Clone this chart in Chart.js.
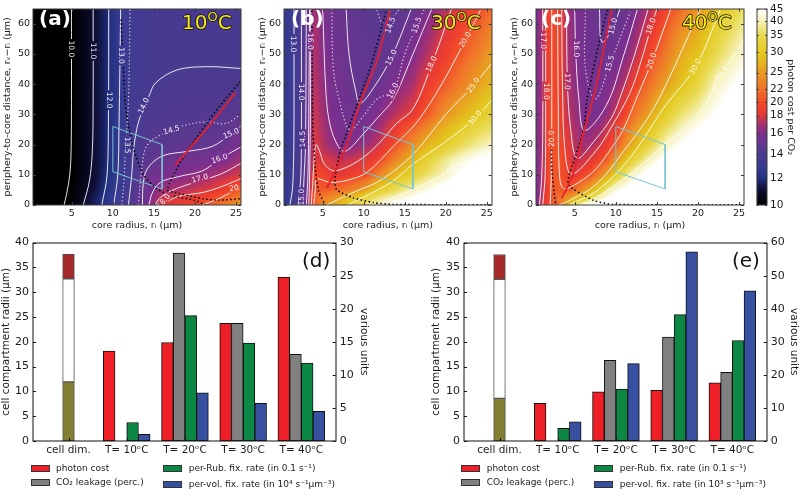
<!DOCTYPE html>
<html><head><meta charset="utf-8">
<style>html,body{margin:0;padding:0;background:#fff;width:800px;height:489px;overflow:hidden}canvas{position:absolute}</style>
<script src="https://cdn.jsdelivr.net/npm/chart.js@4"></script>
</head><body>
<canvas id="ca" width="250" height="235" style="left:0;top:0"></canvas>
<canvas id="cb" width="250" height="235" style="left:250px;top:0"></canvas>
<canvas id="cc" width="250" height="235" style="left:500px;top:0"></canvas>
<canvas id="cbar" width="55" height="235" style="left:745px;top:0"></canvas>
<canvas id="cd" width="375" height="257" style="left:0;top:232px"></canvas>
<canvas id="ce" width="370" height="257" style="left:430px;top:232px"></canvas>
<script>
// ---------- bar data ----------
const barCategories = ['cell dim.','T= 10ᵒC','T= 20ᵒC','T= 30ᵒC','T= 40ᵒC'];
const dCost = [13.6,14.9,17.8,24.8];
const dLeak = [null,28.4,17.8,13.1];
const dRub  = [2.8,18.95,14.8,11.8];
const dVol  = [1.0,7.3,5.7,4.5];
const dCell = [11.9,32.7,37.7];
const eCost = [11.4,14.9,15.3,17.6];
const eLeak = [null,24.4,31.4,20.8];
const eRub  = [3.8,15.7,38.2,30.4];
const eVol  = [5.8,23.4,57.2,45.4];
const eCell = [8.6,32.6,37.6];
const leftTicks = [0,5,10,15,20,25,30,35,40];
const dRightTicks = [0,5,10,15,20,25,30];
const eRightTicks = [0,10,20,30,40,50,60];
// ---------- colour bar ----------
const cbValues = [10,12,14,16,18,20,22,25,30,35,40,45];
const cbFractions = [0,.136,.261,.367,.456,.527,.593,.676,.782,.867,.94,1];
const gridX = [.3,1,2,3,4,5,6,7,8,9,10,11,12,14,16,18,20,22,24,25.6];
const gridY = [0,2,5,10,15,20,30,40,50,65];
const a0  = [8,8,8,8.6,9.9,10.4,10.8,11.25,11.7,12.15,12.95,13.5,14.05,15.5,18,18.6,19.6,21,23,25.5];
const a2  = [8,8,8,8.5,9.7,10.2,10.7,11.2,11.7,12.3,12.9,13.4,14,15.3,17.8,18.2,18.8,19.8,21.5,23.5];
const a5  = [8,8,8,8.5,9.6,10.1,10.5,10.9,11.4,12,12.6,13.2,13.9,15.2,16.7,17.2,17.6,18.2,19.2,20.7];
const a10 = [8,8,8,8.5,9.5,10.05,10.4,10.8,11.2,11.8,12.4,13.1,13.8,15.1,15.8,16.05,16.4,16.8,17.4,18];
const a15 = [8,8,8,8.5,9.5,10.05,10.4,10.8,11.2,11.7,12.3,13,13.6,14.55,15.1,15.4,15.5,15.7,16.1,16.8];
const a20 = [8,8,8,8.5,9.5,10.05,10.4,10.8,11.2,11.7,12.3,13,13.55,14.45,14.6,14.7,14.8,14.95,15.3,15.9];
const a30 = [8,8,8,8.5,9.5,10.05,10.4,10.8,11.2,11.7,12.3,13,13.5,14.05,14.2,14.25,14.3,14.35,14.45,14.55];
const a40 = [8,8,8,8.5,9.5,10.05,10.4,10.8,11.2,11.7,12.3,13,13.45,13.78,14,14.05,14.1,14.1,14.1,14.1];
const a50 = [8,8,8,8.5,9.5,10.05,10.4,10.8,11.2,11.7,12.3,13,13.45,13.7,13.85,13.9,13.9,13.9,13.9,13.9];
const a65 = [8,8,8,8.5,9.5,10.05,10.4,10.8,11.2,11.7,12.3,13,13.45,13.7,13.8,13.85,13.85,13.85,13.85,13.85];
const b0  = [12.7,13.1,14,15,20.5,24,25.7,27.5,30,33,36,39,41,47,50,52,54,56,58,60];
const b2  = [12.7,13,14,15.5,21,23,24.2,26,28.5,31,33,36,38.5,42,46,50,52,54,56,58];
const b5  = [12.7,13,13.9,15.2,20,20.8,21,21.7,22.5,23.7,25,28,31,35.5,40,44,48,50,52,54];
const b10 = [12.7,13,13.8,15,19.5,19.5,18.3,18.4,18.8,19.2,19.7,21,23.5,28,32.5,36.8,40.8,46,50,52];
const b15 = [12.7,13,13.8,14.9,18.2,18,17.8,17.4,17.5,17.8,18.2,18.8,19.6,23.5,27.5,33,38,42,45,47];
const b20 = [12.7,13,13.7,14.85,18.1,17.3,16.6,16.1,16,16.3,16.6,17,17.7,20.2,24,27.7,31,35,38.5,40.5];
const b30 = [12.7,13,13.7,14.8,17.7,16.9,15.9,15.6,15.45,15.4,15.45,15.7,16.3,17.4,18.4,21,24.5,27.3,30,33];
const b40 = [12.7,13,13.7,14.8,17.4,16.5,15.8,15.5,15.3,14.95,14.9,14.98,15.2,16.1,17,18.9,20.7,23,25.6,28];
const b50 = [12.7,13,13.7,14.8,17.2,16.2,15.6,15.4,15.2,15,14.85,14.75,14.7,15.2,16,17.4,19,20.8,23,25.2];
const b65 = [12.7,13,13.7,14.8,17,16,15.45,15.2,15,14.85,14.7,14.6,14.5,14.6,15.05,16,17.3,18.7,19.8,21.5];
const c0  = [15.9,17.8,20.1,21.5,25,35,42,47,50,52,54,56,58,60,60,60,60,60,60,60];
const c2  = [15.8,17.5,20,22,24.5,28,31,36,41,45,48,50,52,55,58,60,60,60,60,60];
const c5  = [15.8,17,20,21,20.3,21.5,24,27,31,38,43,46,48,52,55,58,60,60,60,60];
const c10 = [15.8,16.9,20.3,20.6,19.5,18.3,19.3,20.4,23,26,31,36,41,47,52,55,58,60,60,60];
const c15 = [15.8,16.9,20.2,20.4,19.2,17.4,17.7,18.3,19.5,21,24.5,28,32,40,46,50,54,58,60,60];
const c20 = [15.8,16.9,20.1,20.2,18.6,17.3,16.75,17,17.7,18.9,20.4,23.5,26.5,33,40.3,45,50,54,58,60];
const c30 = [15.8,16.9,20,19.8,17.6,16.8,15.95,15.75,15.9,16.6,17.6,19.2,21.5,25.5,31,36.5,40.3,45,49,52];
const c40 = [15.8,16.9,19.7,19.4,17.2,16.4,15.85,15.6,15.7,15.9,16.4,17.2,18.6,21.7,25.3,29,33.5,40,44,47];
const c50 = [15.8,16.9,19.6,19.7,17.1,16.15,15.6,15.4,15.25,15.3,15.55,16,16.8,19.2,22.3,26.5,29,34,38.8,42];
const c65 = [15.8,16.9,19.6,19.6,17,16.05,15.55,15.3,15,14.9,14.92,15.1,15.5,17.1,19.2,21.8,24.6,28.5,32.5,36];
// ---------- colour map: value, colour ----------
const cmValues = [10,10.7,11.3,12,13,14,15,16,17,18,19,20,22,25,28,30,35,40,45];
const cmColours = ['#000000','#07071c','#111340','#20307f','#383c92','#4a3a90','#65368f','#7e2f8e','#a8306e','#dc3a40','#ee3d2e','#f04d2a','#f1722a','#e99a22','#e4ba1e','#e4c920','#e9da52','#f6f2b8','#ffffff'];
// ---------- contours, red optimum lines, black dotted boundaries ----------
const la10=[[4.07,0],[4.6,6.9],[4.88,14.5],[4.96,34],[4.96,65]];
const la11=[[6.4,0],[7.15,8],[7.5,17.7],[7.6,34],[7.6,65]];
const la12=[[8.66,0],[9.3,10],[9.47,32],[9.5,65]];
const la13=[[10.1,0],[10.6,10],[10.75,26],[10.95,65]];
const la135=[[11.1,0],[11.4,10],[11.5,17],[11.9,35],[12.1,65]];
const la14=[[11.9,0],[12.3,10],[12.5,18],[12.9,25],[13.3,29],[14.4,36],[15.2,40.4],[17.8,44.7],[21.5,45.8],[25.6,45.2]];
const la145=[[13.1,0],[13.5,11.3],[14.1,19.4],[15.8,23.2],[18.8,26.4],[21.3,27.5],[23.7,27],[25.7,30.2]];
const la15=[[13.6,0],[13.7,7],[14.2,12],[16,16.2],[19.2,17.8],[22.1,19.4],[24.4,23.6],[25.7,26.4]];
const la16=[[14.4,0],[14.8,4],[15.8,7.5],[18,9.4],[20.9,11.3],[23,15.2],[25.7,19.4]];
const la17=[[15.1,0],[15.8,2.5],[17.2,4.8],[19.4,7],[23.1,10.2],[25.7,14]];
const la18=[[16,0],[17.8,2.7],[21.2,4.3],[24.1,7],[25.7,8.9]];
const la20=[[20.9,0],[22.9,2.1],[24.6,4.5],[25.7,5.9]];
const aRed=[[17.6,13.3],[19.2,18.3],[22.1,27.5],[24.9,37.2]];
const aDot1=[[11,61.4],[11.5,34],[11.9,26.4],[12.5,18.8],[13.7,10.1],[15.4,5.3],[17,3.2],[20,1.5],[21.3,0]];
const aDot2=[[25.5,40.9],[22.7,31.7],[19,17.7],[17,8],[16.6,4.7]];
const aDot3=[[16.6,4.7],[20.9,2.1],[22.9,1.6],[25.6,2.1]];
const lb13=[[1,0],[1.3,5],[1.45,15],[1.5,30],[1.5,65]];
const lb14=[[2,0],[2.3,8],[2.4,20],[2.4,65]];
const lb145=[[2.6,0],[2.7,8],[2.9,20],[3,65]];
const lb15=[[3,0],[3.2,10],[3.3,30],[3.4,65]];
const lb16L=[[3.3,0],[3.4,10],[3.5,30],[3.55,65]];
const lb145V=[[11.6,64.5],[12.3,60],[13,60.5],[14.4,65]];
const lb15U=[[7.85,65],[8.2,50],[9,38],[9.55,33.7],[11,38],[13.4,49],[15.8,65]];
const lb155=[[6.1,65],[6.3,45],[7,35],[8.3,24.8],[10,29.6],[11.6,35],[13.6,38],[15,50],[16.5,59.6],[17.4,65]];
const lb16=[[5,65],[5.4,37],[5.9,26.4],[6.9,19.4],[7.8,17.8],[10,23.7],[11.6,28.6],[13.6,35],[16,50],[18.3,65]];
const lb18=[[3.6,0],[3.8,8],[4,17],[4.2,20],[4.6,18],[5.1,14],[5.8,12],[6.5,11.3],[8.3,13],[10.4,16.7],[12.4,22],[14,27],[16,31.8],[18.3,46.6],[20.7,65]];
const lb20=[[3.9,0],[4.1,5],[4.25,8.6],[5.9,7.5],[8,8.2],[10.4,10.8],[13.6,19.4],[16.5,27.5],[19.5,40],[22.4,54.7],[24.2,64.4]];
const lb25=[[5.5,0],[7,2],[9,4.5],[12,8.1],[16,16.7],[20,30],[23.4,39.6],[25.5,46.6]];
const lb30=[[8,0],[11,4],[13.6,8],[16,13.5],[20,21],[23.6,28.8],[25.6,34.7]];
const lb40=[[11.6,0],[13.6,2.4],[17.7,7.2],[21,12.1],[25.6,19.6]];
const bRed=[[5.5,5.6],[6.1,8.8],[7.9,19.6],[9.55,33.7],[11.6,47.7],[13.2,64.4]];
const bDot1=[[3.66,64.4],[3.8,26],[4.1,12],[4.5,4.5],[5.3,0]];
const bDot2=[[12.7,63.9],[10.8,45.5],[9.1,32.6],[7.1,17.5],[6.5,8.8],[6.7,5.1],[8.7,2.4],[11.2,.8],[13.6,.2],[25.6,.1]];
const lc17L=[[.7,0],[.95,8],[1.1,25],[1.1,65]];
const lc18L=[[1.1,0],[1.4,10],[1.46,30],[1.46,65]];
const lc20L=[[2,0],[2.15,10],[2.2,30],[2.2,65]];
const lc15=[[8,65],[8.3,54],[9.7,59],[10.5,65]];
const lc155=[[6.3,65],[6.3,45],[7.5,35],[9.3,46.8],[11.75,64]];
const lc16=[[5,65],[5.1,51.7],[5.5,35],[6.2,24.7],[8.9,33.3],[11,50],[12.6,64.6]];
const lc17=[[4,65],[4.1,41],[4.5,25],[5.3,15.5],[7.3,21],[9.5,29],[10.7,37],[12.2,49],[13.9,64.6]];
const lc18=[[3.4,65],[3.5,40],[3.8,18],[4.6,10.2],[7.6,18],[9.5,26],[11.7,37],[13,47],[14.3,59],[15,65]];
const lc20=[[2.9,65],[3,30],[3.1,12],[3.6,5.5],[5.5,7.5],[7.6,12],[9.5,19],[10.9,25],[12.7,36.5],[14.4,47.7],[16.7,65]];
const lc25=[[3,0],[4,1],[7.7,7],[11,18],[13.7,28],[15.6,37],[19,57],[20.3,65]];
const lc30=[[4.4,.2],[7.7,4.7],[11.7,15.5],[16,32.8],[19.7,45.7],[22.7,64.6]];
const lc40=[[5.6,0],[7.7,2.6],[11.7,10.1],[15.8,19.8],[19.9,29.5],[22.9,43.6],[25.6,54.4]];
const cRed=[[3.4,2.2],[4.8,10.2],[6,23.2],[7.4,37.2],[9.5,64.7]];
const cDot1=[[9,64.6],[8.1,55.4],[6.5,35],[6.1,25],[5,15.5],[4.2,6.9],[7.3,1.5],[9.7,.2],[25.6,.1]];
const cDot2=[[2.2,25],[2.2,12.3],[2.6,1.5],[2.8,0]];
const regionBox=[[10,26],[16,20],[16,5.3],[10,11],[10,26]];
// contour text labels: text, x, y, angle
const aLabels=[['10.0',4.95,51.7,90],['11.0',7.55,51,90],['12.0',9.47,34.7,90],['13.0',10.98,49.5,90],['13.5',11.7,19.8,90],['14.0',13.8,32.8,-65],['14.5',17.15,24.7,-15],['15.0',24.4,23.6,-22],['16.0',23,15.2,-18],['17.0',20.6,8.7,-15],['20.',24.9,5.5,-10],['18.0',16.2,1.2,-50]];
const bLabels=[['13.0',1.4,53.3,90],['16.0',3.5,54.2,90],['14.0',2.35,37.4,90],['14.5',2.6,21.8,-90],['15.0',2.5,2.6,-90],['14.5',13.3,59.5,-70],['15.5',16.5,59.5,-70],['15.0',13.4,48.8,-65],['16.0',13.6,37.8,-65],['18.0',18.3,46.6,-65],['20.0',22.4,54.7,-60],['25.0',23.4,39.6,-55],['30.0',23.6,28.8,-50],['40.0',21,12.1,-35]];
const cLabels=[['17.0',1.1,54.4,90],['18.0',1.46,37.6,90],['20.0',2.2,22,-90],['16.0',5.1,51.7,90],['17.0',4.1,40.9,90],['15.0',9.7,59.2,-75],['15.5',9.3,46.8,-75],['18.0',14.3,59.2,-70],['20.0',14.4,47.7,-70],['30.0',19.7,45.7,-60],['40.0',22.9,43.6,-50]];
const heatXTicks=[5,10,15,20,25];
const heatYTicks=[0,10,20,30,40,50,60];

const FONT='"DejaVu Sans"';
const INK='#1c1c1c';
Chart.defaults.font.family=FONT;
Chart.defaults.color=INK;
function rgb(h){return [1,3,5].map(i=>parseInt(h.substr(i,2),16));}
const cmRGB=cmColours.map(rgb);
function colourOf(v){
  if(v<=cmValues[0])return cmRGB[0];
  const n=cmValues.length;
  if(v>=cmValues[n-1])return cmRGB[n-1];
  let i=0;while(v>cmValues[i+1])i++;
  const t=(v-cmValues[i])/(cmValues[i+1]-cmValues[i]);
  return cmRGB[i].map((c,k)=>c+(cmRGB[i+1][k]-c)*t);
}
function locate(arr,v){
  let i=0;const n=arr.length;
  if(v<=arr[0])return [0,0];
  if(v>=arr[n-1])return [n-2,1];
  while(v>arr[i+1])i++;
  return [i,(v-arr[i])/(arr[i+1]-arr[i])];
}
function pts(a){return a.map(p=>({x:p[0],y:p[1]}));}
function lineDs(a,colour,width,dash){
  return {data:pts(a),showLine:true,borderColor:colour,borderWidth:width,borderDash:dash||[],pointRadius:0,pointHoverRadius:0,tension:.35,fill:false,clip:true};
}
function fixedSize(key,size){return s=>{s[key]=size;};}
function setTicks(list){return s=>{s.ticks=list.map(v=>({value:v}));};}
function frame(chart,opts){
  const {ctx,chartArea:A}=chart;
  ctx.save();ctx.strokeStyle=opts.colour;ctx.lineWidth=1;
  ctx.strokeRect(Math.round(A.left)-.5+.5,Math.round(A.top)+.5-.5,Math.round(A.right-A.left),Math.round(A.bottom-A.top));
  ctx.beginPath();
  const L=opts.len;
  (opts.y||[]).forEach(([sid,vals,side])=>{const s=chart.scales[sid];vals.forEach(v=>{const y=Math.round(s.getPixelForValue(v))+.5;
    if(side!=='r'){ctx.moveTo(A.left,y);ctx.lineTo(A.left+L,y);}
    if(side!=='l'){ctx.moveTo(A.right,y);ctx.lineTo(A.right-L,y);}});});
  (opts.x||[]).forEach(v=>{const x=Math.round(chart.scales.x.getPixelForValue(v))+.5;
    ctx.moveTo(x,A.bottom);ctx.lineTo(x,A.bottom-L);
    if(opts.xTop){ctx.moveTo(x,A.top);ctx.lineTo(x,A.top+L);}});
  ctx.stroke();ctx.restore();
}
function heatPlugin(rows,labels,tag,tagX,temp,tempX){
  return {id:'heat'+tag,
    beforeDatasetsDraw(chart){
      const {ctx,chartArea:A,scales:{x:sx,y:sy}}=chart;
      const W=Math.round(A.right-A.left),H=Math.round(A.bottom-A.top),X0=Math.round(A.left),Y0=Math.round(A.top);
      const off=document.createElement('canvas');off.width=W;off.height=H;
      const oc=off.getContext('2d'),img=oc.createImageData(W,H);
      for(let j=0;j<H;j++){
        const [rj,tj]=locate(gridY,sy.getValueForPixel(Y0+j+.5));
        for(let i=0;i<W;i++){
          const [ci,ti]=locate(gridX,sx.getValueForPixel(X0+i+.5));
          const v=(rows[rj][ci]*(1-ti)+rows[rj][ci+1]*ti)*(1-tj)+(rows[rj+1][ci]*(1-ti)+rows[rj+1][ci+1]*ti)*tj;
          const c=colourOf(v),k=(j*W+i)*4;
          img.data[k]=c[0];img.data[k+1]=c[1];img.data[k+2]=c[2];img.data[k+3]=255;
        }
      }
      oc.putImageData(img,0,0);ctx.drawImage(off,X0,Y0);
      ctx.save();ctx.beginPath();ctx.rect(A.left,A.top,A.right-A.left,A.bottom-A.top);
      ctx.font='7.5px '+FONT;
      labels.forEach(([t,x,y,rot])=>{
        const px=sx.getPixelForValue(x),py=sy.getPixelForValue(y),w=ctx.measureText(t).width/2+1.5,h=3.5,r=rot*Math.PI/180,c=Math.cos(r),s=Math.sin(r);
        [[-w,-h],[w,-h],[w,h],[-w,h]].forEach(([a,b],n)=>{const X=px+a*c-b*s,Y=py+a*s+b*c;n?ctx.lineTo(X,Y):ctx.moveTo(X,Y);});
        ctx.closePath();
      });
      ctx.clip('evenodd');
    },
    afterDatasetsDraw(chart){
      const {ctx,scales:{x:sx,y:sy}}=chart;
      ctx.restore();
      ctx.save();ctx.fillStyle='rgba(255,255,255,.92)';ctx.font='7.5px '+FONT;ctx.textAlign='center';ctx.textBaseline='middle';
      labels.forEach(([t,x,y,rot])=>{ctx.save();ctx.translate(sx.getPixelForValue(x),sy.getPixelForValue(y));ctx.rotate(rot*Math.PI/180);ctx.fillText(t,0,0);ctx.restore();});
      ctx.restore();
      frame(chart,{colour:'#3a3a3a',len:3,y:[['y',heatYTicks,'b']],x:heatXTicks,xTop:true});
      ctx.save();ctx.textBaseline='middle';ctx.textAlign='left';
      ctx.font='bold 20px '+FONT;ctx.fillStyle='#fff';ctx.fillText(tag,tagX,20);
      ctx.fillStyle='#f7ec13';ctx.strokeStyle='#111';ctx.lineWidth=1.6;ctx.lineJoin='round';
      ctx.font='20px '+FONT;let x=tempX;
      const put=(t,y)=>{ctx.strokeText(t,x,y);ctx.fillText(t,x,y);x+=ctx.measureText(t).width;};
      put(temp,24);ctx.font='13px '+FONT;put('O',18);ctx.font='20px '+FONT;put('C',24);
      ctx.restore();
    }};
}
function heatChart(id,rows,lines,labels,tag,tagX,temp,tempX,yw,pr,tp){
  const black='#000',white='rgba(255,255,255,.88)',dot=[1.2,2.4];
  const ds=[];
  lines.red.forEach(a=>ds.push(lineDs(a,'#e4202c',1.8)));
  lines.black.forEach(a=>{const d=lineDs(a,black,1.5,[1.5,2.5]);d.tension=.2;ds.push(d);});
  {const d=lineDs(regionBox,'#78c4d2',1);d.tension=0;ds.push(d);}
  lines.solid.forEach(a=>ds.push(lineDs(a,white,1)));
  lines.dotted.forEach(a=>ds.push(lineDs(a,'rgba(255,255,255,.8)',1.2,dot)));
  return new Chart(document.getElementById(id),{type:'scatter',data:{datasets:ds},
    plugins:[heatPlugin(rows,labels,tag,tagX,temp,tempX)],
    options:{responsive:false,animation:false,devicePixelRatio:1,
      layout:{autoPadding:false,padding:{top:4,right:pr,left:0,bottom:0}},
      plugins:{legend:{display:false},tooltip:{enabled:false}},
      scales:{
        x:{type:'linear',min:.28,max:25.6,afterBuildTicks:setTicks(heatXTicks),afterFit:fixedSize('height',30),
          grid:{display:false,drawTicks:false},border:{display:false},ticks:{font:{size:9.5},padding:3,maxRotation:0,autoSkip:false,color:INK},
          title:{display:true,text:'core radius, rᵢ (μm)',font:{size:9.5},color:INK,padding:{top:0,bottom:4}}},
        y:{type:'linear',min:0,max:65,afterBuildTicks:setTicks(heatYTicks),afterFit:fixedSize('width',yw),
          grid:{display:false,drawTicks:false},border:{display:false},ticks:{font:{size:9.5},padding:3,autoSkip:false,color:INK},
          title:{display:true,text:'periphery-to-core distance, rᵥ−rᵢ (μm)',font:{size:9.5},color:INK,padding:{top:tp,bottom:0}}}
      }}});
}
const rowsOf=(...r)=>r;
heatChart('ca',rowsOf(a0,a2,a5,a10,a15,a20,a30,a40,a50,a65),
  {red:[aRed],black:[aDot1,aDot2,aDot3],solid:[la10,la11,la12,la13,la14,la15,la16,la17,la18,la20],dotted:[la135,la145]},
  aLabels,'(a)',39,'10',182,33,9,2);
heatChart('cb',rowsOf(b0,b2,b5,b10,b15,b20,b30,b40,b50,b65),
  {red:[bRed],black:[bDot1,bDot2],solid:[lb13,lb14,lb145,lb15,lb16L,lb15U,lb16,lb18,lb20,lb25,lb30,lb40],dotted:[lb145V,lb155]},
  bLabels,'(b)',41,'30',181,34,8.3,7);
heatChart('cc',rowsOf(c0,c2,c5,c10,c15,c20,c30,c40,c50,c65),
  {red:[cRed],black:[cDot1,cDot2],solid:[lc17L,lc18L,lc20L,lc15,lc16,lc17,lc18,lc20,lc25,lc30,lc40],dotted:[lc155]},
  cLabels,'(c)',41,'40',182,36,6,9);

// colour bar
new Chart(document.getElementById('cbar'),{type:'bar',
  data:{labels:['cost'],datasets:[{data:[[0,1]],barPercentage:1,categoryPercentage:1,borderWidth:0,
    backgroundColor(c){
      const A=c.chart.chartArea;if(!A)return '#888';
      const g=c.chart.ctx.createLinearGradient(0,A.bottom,0,A.top);
      cmValues.forEach((v,i)=>{let f=0;for(let k=0;k<cbValues.length-1;k++){if(v>=cbValues[k]&&v<=cbValues[k+1]){f=cbFractions[k]+(v-cbValues[k])/(cbValues[k+1]-cbValues[k])*(cbFractions[k+1]-cbFractions[k]);break;}}g.addColorStop(f,cmColours[i]);});
      return g;}}]},
  plugins:[{id:'cbFrame',afterDatasetsDraw(ch){frame(ch,{colour:'#3a3a3a',len:2,y:[['y',cbFractions,'b']]});}}],
  options:{responsive:false,animation:false,devicePixelRatio:1,
    layout:{autoPadding:false,padding:{top:4,left:11.7,right:0,bottom:0}},
    plugins:{legend:{display:false},tooltip:{enabled:false}},
    scales:{
      x:{display:true,grid:{display:false,drawTicks:false},border:{display:false},ticks:{display:false},afterFit:fixedSize('height',30)},
      y:{position:'right',min:0,max:1,afterBuildTicks:setTicks(cbFractions),afterFit:fixedSize('width',33),
        grid:{display:false,drawTicks:false},border:{display:false},
        ticks:{font:{size:10.5},padding:3,autoSkip:false,color:INK,callback(v){const i=cbFractions.indexOf(v);return i<0?'':cbValues[i];}},
        title:{display:true,text:'photon cost per CO₂',font:{size:9.5},color:INK,padding:{top:4,bottom:0}}}
    }}});

// bar panels
function barChart(id,series,cell,rightMax,rightTicks,tag,tagX,lab1,lab2,lgx,wR){
  const [cost,leak,rub,vol]=series;
  const mk=(arr,label,colour)=>({label,data:arr.map((v,i)=>({x:i+1,y:v})),backgroundColor:colour,borderColor:'#111',borderWidth:1,borderSkipped:false,barThickness:11.7,yAxisID:'yR',xAxisID:'x'});
  const mkCell=(lo,hi,colour)=>({data:[{x:0,y:[lo,hi]}],backgroundColor:colour,borderColor:'#555',borderWidth:1,borderSkipped:false,barThickness:11.7,grouped:false,yAxisID:'y',xAxisID:'x'});
  const sets=[mk(cost,'photon cost','#ee1f26'),mk(leak,'CO₂ leakage (perc.)','#808080'),mk(rub,lab1,'#0c8744'),mk(vol,lab2,'#3850a0'),
    mkCell(0,cell[0],'#827f33'),mkCell(cell[0],cell[1],'#ffffff'),mkCell(cell[1],cell[2],'#a52a2a')];
  const legendPos=[[lgx[0],233,lgx[1]],[lgx[0],247,lgx[1]],[lgx[2],233,lgx[3]],[lgx[2],249,lgx[3]]];
  new Chart(document.getElementById(id),{type:'bar',data:{datasets:sets},
    plugins:[{id:'panel'+tag,afterDatasetsDraw(ch){
      const c=ch.ctx;
      frame(ch,{colour:'#111',len:3,y:[['y',leftTicks,'l'],['yR',rightTicks,'r']],x:[0,1,2,3,4]});
      c.save();c.fillStyle='#111';c.font='20px '+FONT;c.textBaseline='middle';c.textAlign='left';c.fillText(tag,tagX,30);
      c.font='9px '+FONT;c.fillStyle=INK;
      legendPos.forEach(([x,y,tx],i)=>{const d=sets[i];c.fillStyle=d.backgroundColor;c.strokeStyle='#333';c.lineWidth=1;
        c.fillRect(x,y,18,6.5);c.strokeRect(x+.5,y+.5,18,6);
        c.fillStyle=INK;c.fillText(d.label,tx,y+3.5);});
      c.restore();
    }}],
    options:{responsive:false,animation:false,devicePixelRatio:1,
      layout:{autoPadding:false,padding:{top:10,left:0,right:0,bottom:0}},
      plugins:{legend:{display:false},tooltip:{enabled:false}},
      scales:{
        x:{type:'linear',offset:false,min:-.61,max:4.59,afterBuildTicks:setTicks([0,1,2,3,4]),afterFit:fixedSize('height',48),
          grid:{display:false,drawTicks:false,offset:false},border:{display:false},
          ticks:{font:{size:10.5},padding:3,maxRotation:0,autoSkip:false,color:INK,callback(v){return barCategories[v];}}},
        y:{position:'left',min:0,max:40,afterBuildTicks:setTicks(leftTicks),afterFit:fixedSize('width',lgx[4]),
          grid:{display:false,drawTicks:false},border:{display:false},ticks:{font:{size:11},padding:4,autoSkip:false,color:INK},
          title:{display:true,text:'cell compartment radii (μm)',font:{size:10.5},color:INK,padding:{top:0,bottom:0}}},
        yR:{position:'right',min:0,max:rightMax,afterBuildTicks:setTicks(rightTicks),afterFit:fixedSize('width',wR),
          grid:{display:false,drawTicks:false},border:{display:false},ticks:{font:{size:11},padding:4,autoSkip:false,color:INK},
          title:{display:true,text:'various units',font:{size:10.5},color:INK,padding:{top:lgx[5],bottom:0}}}
      }}});
}
barChart('cd',[dCost,dLeak,dRub,dVol],dCell,30,dRightTicks,'(d)',302,'per-Rub. fix. rate (in 0.1 s⁻¹)','per-vol. fix. rate (in 10⁴ s⁻¹μm⁻³)',[31,56,163,188.7,33,5],39.3);
barChart('ce',[eCost,eLeak,eRub,eVol],eCell,60,eRightTicks,'(e)',302,'per-Rub. fix. rate (in 0.1 s⁻¹)','per-vol. fix. rate (in 10³ s⁻¹μm⁻³)',[31,56.7,164,189.7,34,0],33.3);
</script>
</body></html>
